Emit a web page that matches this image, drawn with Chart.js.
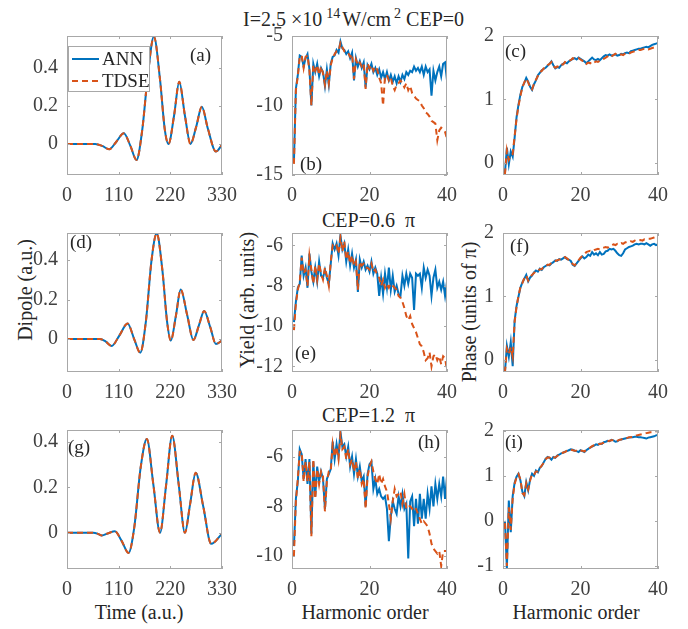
<!DOCTYPE html>
<html>
<head>
<meta charset="utf-8">
<script src="https://cdn.jsdelivr.net/npm/chart.js@4.4.0/dist/chart.umd.min.js"></script>
<style>
  body { margin: 0; background: #fff; width: 688px; height: 629px; position: relative; overflow: hidden;
         font-family: "Liberation Serif", "Times New Roman", serif; }
  canvas { position: absolute; }
  .txt { position: absolute; white-space: nowrap; color: #262626; font-size: 20px; line-height: 20px; }
  .txt sup { font-size: 14px; vertical-align: 8px; line-height: 0; }
  .ctr { transform: translate(-50%, -50%); }
  .rot { transform: translate(-50%, -50%) rotate(-90deg); }
</style>
</head>
<body>
<div class="txt" style="left:243px; top:9px">I=2.5 &times;10<sup style="margin-left:4px">14</sup><span style="margin-left:2px">W/cm</span><sup style="margin-left:3px">2</sup> CEP=0</div>
<div class="txt" style="left:322px; top:210px">CEP=0.6 &nbsp;&pi;</div>
<div class="txt" style="left:322px; top:405px">CEP=1.2 &nbsp;&pi;</div>
<div class="txt rot" style="left:25px; top:290px">Dipole (a.u.)</div>
<div class="txt rot" style="left:247px; top:300px">Yield (arb. units)</div>
<div class="txt rot" style="left:469px; top:312px">Phase (units of &pi;)</div>
<div class="txt ctr" style="left:139px; top:612px">Time (a.u.)</div>
<div class="txt ctr" style="left:365px; top:612px">Harmonic order</div>
<div class="txt ctr" style="left:576px; top:612px">Harmonic order</div>
<script>
// ---- dipole vs time, panels (a) (d) (g)
const timeA = [0, 60, 75, 90, 105, 121, 135, 148, 160, 172, 185, 198, 208, 216, 228, 239, 251, 263, 275, 287, 300, 317, 330];
const dipoleAnnA = [0, 0, -0.01, -0.028, 0.012, 0.056, -0.01, -0.084, 0.07, 0.36, 0.565, 0.34, 0.08, 0.0, 0.15, 0.328, 0.15, 0.0, 0.09, 0.196, 0.08, -0.04, -0.005];
const dipoleTdseA = [0, 0, -0.01, -0.028, 0.012, 0.056, -0.01, -0.084, 0.07, 0.36, 0.565, 0.34, 0.08, 0.0, 0.15, 0.328, 0.15, 0.0, 0.09, 0.196, 0.08, -0.04, -0.005];

const timeD = [0, 70, 82, 95, 112, 129, 143, 156, 168, 180, 191, 203, 213, 221, 232, 242, 256, 269, 281, 292, 305, 317, 330];
const dipoleAnnD = [0, 0, -0.012, -0.035, 0.02, 0.079, 0.0, -0.069, 0.09, 0.4, 0.535, 0.35, 0.09, -0.008, 0.12, 0.251, 0.12, -0.005, 0.07, 0.142, 0.06, -0.025, -0.008];
const dipoleTdseD = [0, 0, -0.012, -0.035, 0.02, 0.079, 0.0, -0.069, 0.09, 0.4, 0.535, 0.35, 0.09, -0.008, 0.12, 0.251, 0.12, -0.005, 0.07, 0.142, 0.06, -0.025, -0.008];

const timeG = [0, 56, 66, 74, 88, 102, 116, 131, 143, 157, 170, 184, 198, 211, 224, 238, 251, 262, 274, 290, 307, 330];
const dipoleAnnG = [0, 0, -0.005, -0.012, -0.002, 0.006, -0.035, -0.089, 0.02, 0.29, 0.413, 0.21, 0.0, 0.21, 0.428, 0.21, 0.0, 0.125, 0.265, 0.117, -0.049, -0.004];
const dipoleTdseG = [0, 0, -0.005, -0.012, -0.002, 0.006, -0.035, -0.089, 0.02, 0.29, 0.413, 0.21, 0.0, 0.21, 0.428, 0.21, 0.0, 0.125, 0.265, 0.117, -0.049, -0.004];

// ---- harmonic spectra, orders 0.5 ... 40
const harmonics = [];
for (let i = 1; i <= 80; i++) harmonics.push(i / 2);

const yieldAnnB = [
  -14.0, -8.8, -7.8, -6.4, -6.5, -7.2, -6.6, -6.3, -7.4, -10.0,
  -7.0, -7.6, -7.0, -7.9, -7.3, -7.6, -8.6, -7.4, -8.5, -7.0,
  -6.5, -6.4, -6.0, -6.2, -5.4, -5.9, -6.0, -6.3, -6.1, -6.6,
  -6.2, -8.2, -6.6, -7.2, -6.8, -7.3, -6.9, -8.7, -7.1, -7.4,
  -7.0, -7.6, -7.3, -7.8, -7.4, -8.0, -7.6, -8.1, -7.6, -8.2,
  -7.8, -8.3, -7.9, -8.4, -7.9, -8.3, -7.8, -8.1, -7.6, -7.8,
  -7.5, -7.6, -7.2, -7.5, -7.3, -7.6, -7.2, -7.8, -7.2, -7.6,
  -7.4, -9.3, -7.5, -8.2, -7.6, -7.2, -7.9, -7.0, -6.9, -8.2];
const yieldTdseB = [
  -14.2, -8.9, -7.9, -6.5, -6.4, -7.3, -6.5, -6.4, -7.5, -10.0,
  -7.1, -7.5, -7.1, -7.8, -7.2, -7.7, -8.5, -7.5, -8.4, -7.1,
  -6.6, -6.3, -6.1, -6.1, -5.5, -5.8, -6.1, -6.2, -6.2, -6.5,
  -6.3, -8.1, -6.7, -7.1, -6.9, -7.2, -7.0, -8.8, -7.0, -7.3,
  -7.1, -7.5, -7.2, -7.4, -8.0, -8.4, -10.0, -7.9, -7.8, -8.2,
  -8.0, -8.6, -8.9, -8.5, -8.4, -8.2, -8.4, -8.7, -8.4, -8.9,
  -8.6, -9.1, -9.3, -9.5, -9.6, -9.7, -10.0, -10.2, -10.5, -10.6,
  -10.8, -11.1, -11.2, -11.3, -12.5, -11.8, -11.6, -11.7, -11.9, -12.4];

const phaseAnnC = [
  -0.16, 0.24, -0.02, 0.18, 0.1, 0.4, 0.72, 0.92, 1.08, 1.2,
  1.26, 1.34, 1.28, 1.2, 1.15, 1.24, 1.3, 1.38, 1.42, 1.46,
  1.48, 1.5, 1.53, 1.56, 1.6, 1.54, 1.49, 1.51, 1.5, 1.54,
  1.56, 1.58, 1.57, 1.6, 1.62, 1.64, 1.65, 1.63, 1.66, 1.64,
  1.62, 1.6, 1.57, 1.6, 1.63, 1.66, 1.63, 1.62, 1.64, 1.62,
  1.65, 1.68, 1.7, 1.69, 1.71, 1.69, 1.7, 1.71, 1.69, 1.7,
  1.72, 1.71, 1.73, 1.74, 1.73, 1.76, 1.77, 1.78, 1.79, 1.8,
  1.8, 1.81, 1.82, 1.83, 1.82, 1.84, 1.86, 1.87, 1.88, 1.89];
const phaseTdseC = [
  -0.18, 0.2, 0.05, 0.12, 0.14, 0.42, 0.7, 0.9, 1.06, 1.19,
  1.27, 1.33, 1.27, 1.19, 1.16, 1.25, 1.31, 1.37, 1.43, 1.45,
  1.49, 1.5, 1.54, 1.56, 1.59, 1.53, 1.5, 1.52, 1.51, 1.55,
  1.55, 1.59, 1.58, 1.61, 1.62, 1.65, 1.64, 1.64, 1.65, 1.63,
  1.61, 1.6, 1.56, 1.58, 1.57, 1.6, 1.58, 1.6, 1.59, 1.61,
  1.63, 1.64, 1.66, 1.68, 1.7, 1.68, 1.7, 1.72, 1.7, 1.69,
  1.71, 1.7, 1.72, 1.73, 1.72, 1.74, 1.75, 1.76, 1.77, 1.78,
  1.78, 1.79, 1.8, 1.8, 1.79, 1.8, 1.81, 1.82, 1.82, 1.82];

const yieldAnnE = [
  -9.8, -8.8, -8.1, -7.9, -6.5, -7.5, -7.1, -8.1, -6.4, -7.3,
  -7.8, -7.1, -7.8, -6.8, -7.5, -7.6, -7.2, -7.6, -7.9, -6.9,
  -5.9, -6.2, -5.9, -6.5, -5.5, -6.2, -5.9, -6.8, -6.2, -7.0,
  -6.4, -7.1, -6.7, -8.3, -6.7, -7.1, -6.8, -7.2, -7.0, -7.3,
  -6.8, -7.4, -7.1, -7.4, -8.5, -7.6, -8.4, -7.4, -8.1, -7.1,
  -8.2, -7.5, -8.3, -8.0, -8.4, -8.5, -7.5, -8.0, -7.4, -7.9,
  -7.4, -7.6, -9.2, -7.4, -7.5, -7.4, -8.1, -7.1, -7.6, -7.2,
  -7.5, -8.5, -7.6, -7.2, -8.1, -7.8, -8.2, -7.8, -8.5, -7.8];
const yieldTdseE = [
  -10.2, -8.9, -8.2, -7.8, -6.6, -7.4, -7.2, -8.0, -6.5, -7.2,
  -7.9, -7.0, -7.7, -6.9, -7.4, -7.7, -7.1, -7.5, -8.0, -6.8,
  -6.0, -6.1, -6.0, -6.4, -5.6, -6.3, -5.8, -6.7, -6.3, -6.9,
  -6.5, -7.0, -6.8, -8.2, -6.8, -7.0, -6.9, -7.1, -7.1, -7.2,
  -6.9, -7.3, -7.2, -7.5, -7.6, -8.0, -7.7, -8.1, -7.9, -8.1,
  -7.9, -8.0, -8.1, -8.2, -8.5, -8.6, -8.8, -9.1, -9.5, -9.7,
  -9.5, -9.9, -10.1, -10.3, -10.6, -10.9, -11.0, -11.3, -11.7, -11.6,
  -11.3, -12.0, -11.5, -11.4, -11.7, -11.5, -11.9, -11.5, -11.6, -12.2];

const phaseAnnF = [
  -0.19, 0.22, 0.05, 0.28, -0.1, 0.62, 0.85, 1.0, 1.14, 1.22,
  1.28, 1.34, 1.24, 1.3, 1.33, 1.38, 1.41, 1.39, 1.44, 1.42,
  1.46, 1.48, 1.5, 1.49, 1.52, 1.54, 1.57, 1.56, 1.59, 1.58,
  1.6, 1.62, 1.59, 1.58, 1.56, 1.5, 1.48, 1.52, 1.56, 1.6,
  1.63, 1.6, 1.62, 1.66, 1.64, 1.7, 1.66, 1.68, 1.65, 1.7,
  1.66, 1.67, 1.71, 1.72, 1.75, 1.74, 1.75, 1.72, 1.68, 1.65,
  1.64, 1.68, 1.74, 1.76, 1.78, 1.79, 1.8, 1.82, 1.83, 1.82,
  1.83, 1.83, 1.82, 1.84, 1.82, 1.8, 1.82, 1.83, 1.81, 1.82];
const phaseTdseF = [
  -0.2, 0.18, 0.1, 0.2, 0.05, 0.6, 0.84, 1.01, 1.15, 1.21,
  1.29, 1.33, 1.25, 1.31, 1.34, 1.37, 1.4, 1.4, 1.43, 1.43,
  1.47, 1.47, 1.5, 1.5, 1.53, 1.55, 1.56, 1.57, 1.58, 1.59,
  1.61, 1.62, 1.6, 1.57, 1.55, 1.51, 1.49, 1.53, 1.57, 1.61,
  1.64, 1.66, 1.7, 1.71, 1.72, 1.71, 1.73, 1.74, 1.75, 1.74,
  1.76, 1.77, 1.78, 1.77, 1.79, 1.8, 1.82, 1.81, 1.83, 1.82,
  1.84, 1.83, 1.85, 1.86, 1.85, 1.87, 1.86, 1.88, 1.87, 1.88,
  1.89, 1.88, 1.9, 1.9, 1.91, 1.91, 1.92, 1.93, 1.94, 1.96];

const yieldAnnH = [
  -9.6, -7.7, -7.0, -5.7, -5.9, -6.9, -6.1, -7.1, -6.1, -9.1,
  -6.2, -7.6, -6.4, -7.0, -6.6, -6.9, -8.1, -6.9, -6.7, -6.5,
  -5.4, -6.1, -5.5, -6.0, -5.0, -5.6, -5.5, -6.0, -5.6, -6.4,
  -6.0, -6.7, -6.1, -6.8, -6.4, -7.0, -6.8, -8.0, -6.7, -6.3,
  -6.2, -7.3, -6.9, -7.5, -7.3, -7.6, -7.7, -7.6, -8.1, -9.4,
  -8.4, -7.8, -8.1, -8.3, -7.6, -8.0, -7.5, -8.1, -7.9, -10.1,
  -7.8, -7.6, -8.8, -7.7, -8.7, -7.5, -8.5, -7.7, -8.5, -7.5,
  -8.1, -7.2, -8.0, -7.1, -7.7, -7.1, -7.6, -6.8, -7.7, -6.8];
const yieldTdseH = [
  -10.0, -7.8, -6.9, -5.8, -5.8, -7.0, -6.2, -7.0, -6.2, -9.2,
  -6.1, -7.7, -6.5, -7.1, -6.6, -6.8, -8.2, -7.0, -6.6, -6.6,
  -5.5, -6.0, -5.6, -6.1, -5.1, -5.7, -5.6, -6.1, -5.7, -6.3,
  -6.1, -6.6, -6.2, -6.9, -6.5, -7.1, -6.9, -8.1, -6.8, -6.4,
  -6.2, -6.6, -6.9, -7.1, -6.7, -7.1, -6.9, -7.2, -7.4, -7.9,
  -8.5, -7.8, -7.3, -7.6, -7.5, -7.4, -7.9, -7.5, -8.1, -8.0,
  -8.0, -8.1, -8.0, -8.1, -8.3, -8.5, -8.7, -8.6, -8.7, -8.8,
  -9.1, -9.5, -9.7, -9.8, -9.9, -9.8, -10.4, -9.8, -9.8, -9.8];

const phaseAnnI = [
  0.0, -1.05, 0.45, -0.25, 0.55, 0.85, 0.98, 1.05, 0.9, 0.65,
  0.55, 0.86, 0.68, 0.92, 1.05, 1.0, 1.12, 1.08, 1.18, 1.22,
  1.3, 1.38, 1.42, 1.4, 1.36, 1.42, 1.4, 1.45, 1.47, 1.5,
  1.51, 1.54, 1.55, 1.57, 1.59, 1.58, 1.56, 1.55, 1.53, 1.57,
  1.55, 1.53, 1.57, 1.6, 1.63, 1.65, 1.67, 1.7, 1.69, 1.72,
  1.71, 1.75, 1.76, 1.78, 1.77, 1.8, 1.79, 1.76, 1.77, 1.8,
  1.81, 1.82, 1.83, 1.84, 1.85, 1.86, 1.86, 1.87, 1.87, 1.86,
  1.86, 1.85, 1.84, 1.83, 1.85, 1.86, 1.87, 1.88, 1.9, 1.91];
const phaseTdseI = [
  -0.05, -1.0, 0.3, -0.2, 0.5, 0.82, 0.97, 1.04, 0.92, 0.62,
  0.57, 0.84, 0.7, 0.9, 1.04, 1.02, 1.1, 1.1, 1.17, 1.23,
  1.29, 1.37, 1.41, 1.41, 1.37, 1.41, 1.41, 1.44, 1.48, 1.49,
  1.52, 1.53, 1.56, 1.58, 1.58, 1.57, 1.56, 1.56, 1.54, 1.56,
  1.56, 1.54, 1.58, 1.61, 1.63, 1.66, 1.68, 1.69, 1.7, 1.71,
  1.72, 1.74, 1.77, 1.77, 1.78, 1.79, 1.8, 1.77, 1.78, 1.8,
  1.81, 1.83, 1.84, 1.84, 1.86, 1.86, 1.87, 1.89, 1.9, 1.91,
  1.92, 1.93, 1.94, 1.95, 1.96, 1.97, 1.97, 1.98, 1.99, 2.0];

// ---- tick labels
const timeTicks = [0, 110, 220, 330];
const orderTicks = [0, 20, 40];
const dipoleTicks = [0, 0.2, 0.4];
const phaseTicks = [0, 1, 2];

const BLUE = "#0072BD";
const ORANGE = "#D95319";
const FONT = '"Liberation Serif", "Times New Roman", serif';
const BOX = "#a8a8a8";
const TEXT = "#262626";

// plot boxes in page pixels
const COLS = [[67, 222], [292, 447], [503, 658]];
const ROWS = [[36, 175], [233, 372], [430, 569]];
const PADL = 50, PADT = 14, PADR = 22, PADB = 34;

const panels = [
  { tag: "(a)", col: 0, row: 0, xs: timeA, ann: dipoleAnnA, tdse: dipoleTdseA, xMax: 330, xTicks: timeTicks,
    yMin: -0.163, yMax: 0.568, yTicks: dipoleTicks, smooth: true, tagAt: [190, 56], legend: true },
  { tag: "(b)", col: 1, row: 0, xs: harmonics, ann: yieldAnnB, tdse: yieldTdseB, xMax: 40, xTicks: orderTicks,
    yMin: -15, yMax: -5, yTicks: [-15, -10, -5], tagAt: [300, 165] },
  { tag: "(c)", col: 2, row: 0, xs: harmonics, ann: phaseAnnC, tdse: phaseTdseC, xMax: 40, xTicks: orderTicks,
    yMin: -0.19, yMax: 2, yTicks: phaseTicks, tagAt: [505, 52] },
  { tag: "(d)", col: 0, row: 1, xs: timeD, ann: dipoleAnnD, tdse: dipoleTdseD, xMax: 330, xTicks: timeTicks,
    yMin: -0.167, yMax: 0.537, yTicks: dipoleTicks, smooth: true, tagAt: [70, 243] },
  { tag: "(e)", col: 1, row: 1, xs: harmonics, ann: yieldAnnE, tdse: yieldTdseE, xMax: 40, xTicks: orderTicks,
    yMin: -12.28, yMax: -5.38, yTicks: [-12, -10, -8, -6], tagAt: [295, 354] },
  { tag: "(f)", col: 2, row: 1, xs: harmonics, ann: phaseAnnF, tdse: phaseTdseF, xMax: 40, xTicks: orderTicks,
    yMin: -0.19, yMax: 2.0, yTicks: phaseTicks, tagAt: [510, 247] },
  { tag: "(g)", col: 0, row: 2, xs: timeG, ann: dipoleAnnG, tdse: dipoleTdseG, xMax: 330, xTicks: timeTicks,
    yMin: -0.16, yMax: 0.453, yTicks: dipoleTicks, smooth: true, tagAt: [68, 448] },
  { tag: "(h)", col: 1, row: 2, xs: harmonics, ann: yieldAnnH, tdse: yieldTdseH, xMax: 40, xTicks: orderTicks,
    yMin: -10.52, yMax: -4.93, yTicks: [-10, -8, -6], tagAt: [418, 443] },
  { tag: "(i)", col: 2, row: 2, xs: harmonics, ann: phaseAnnI, tdse: phaseTdseI, xMax: 40, xTicks: orderTicks,
    yMin: -1.07, yMax: 2.02, yTicks: [-1, 0, 1, 2], tagAt: [505, 443] },
];

// box, inward ticks, panel tag and the legend of (a)
const framePlugin = {
  id: "frame",
  afterDatasetsDraw(chart, args, opts) {
    const { ctx, chartArea: a, scales } = chart;
    ctx.save();
    ctx.strokeStyle = BOX;
    ctx.lineWidth = 1;
    ctx.strokeRect(a.left + 0.5, a.top + 0.5, a.width - 1, a.height - 1);
    ctx.beginPath();
    scales.y.ticks.forEach(t => {
      const y = Math.round(scales.y.getPixelForValue(t.value)) + 0.5;
      ctx.moveTo(a.left, y); ctx.lineTo(a.left + 3, y);
      ctx.moveTo(a.right, y); ctx.lineTo(a.right - 3, y);
    });
    scales.x.ticks.forEach(t => {
      const x = Math.round(scales.x.getPixelForValue(t.value)) + 0.5;
      ctx.moveTo(x, a.bottom); ctx.lineTo(x, a.bottom - 3);
      ctx.moveTo(x, a.top); ctx.lineTo(x, a.top + 3);
    });
    ctx.stroke();

    ctx.fillStyle = TEXT;
    ctx.font = "19px " + FONT;
    ctx.textBaseline = "middle";
    ctx.textAlign = "left";
    ctx.fillText(opts.tag, opts.tagAt[0] - opts.ox, opts.tagAt[1] - opts.oy);

    if (opts.legend) {
      const lx = a.left + 1, ly = a.top + 10, lw = 82, lh = 46;
      ctx.fillStyle = "#fff";
      ctx.fillRect(lx, ly, lw, lh);
      ctx.strokeStyle = BOX;
      ctx.strokeRect(lx + 0.5, ly + 0.5, lw - 1, lh - 1);
      const ds = chart.data.datasets;
      [13, 35].forEach((dy, i) => {
        ctx.beginPath();
        ctx.strokeStyle = ds[i].borderColor;
        ctx.lineWidth = 2;
        ctx.setLineDash(ds[i].borderDash || []);
        ctx.moveTo(lx + 4, ly + dy); ctx.lineTo(lx + 31, ly + dy);
        ctx.stroke();
        ctx.setLineDash([]);
        ctx.fillStyle = TEXT;
        ctx.fillText(ds[i].label, lx + 34, ly + dy + 1);
      });
    }
    ctx.restore();
  }
};

function makePanel(p) {
  const [L, R] = COLS[p.col];
  const [T, B] = ROWS[p.row];
  const canvas = document.createElement("canvas");
  canvas.width = R - L + PADL + PADR;
  canvas.height = B - T + PADT + PADB;
  canvas.style.left = (L - PADL) + "px";
  canvas.style.top = (T - PADT) + "px";
  document.body.appendChild(canvas);

  // order: TDSE (lower order) is drawn on top of ANN
  const line = (label, ys, color, dash, order) => ({
    label,
    order,
    data: p.xs.map((x, i) => ({ x, y: ys[i] })),
    borderColor: color,
    backgroundColor: color,
    borderWidth: 2,
    borderDash: dash,
    pointRadius: 0,
    fill: false,
    tension: 0,
    cubicInterpolationMode: p.smooth ? "monotone" : "default",
  });

  const tickFont = { family: FONT, size: 20 };

  new Chart(canvas, {
    type: "line",
    data: {
      datasets: [
        line("ANN", p.ann, BLUE, [], 2),
        line("TDSE", p.tdse, ORANGE, [6, 4], 1),
      ],
    },
    options: {
      responsive: false,
      animation: false,
      devicePixelRatio: 1,
      layout: { padding: { left: 0, top: PADT, right: PADR, bottom: 0 } },
      plugins: {
        legend: { display: false },
        tooltip: { enabled: false },
        frame: { tag: p.tag, tagAt: p.tagAt, ox: L - PADL, oy: T - PADT, legend: !!p.legend },
      },
      scales: {
        x: {
          type: "linear",
          min: 0,
          max: p.xMax,
          grid: { display: false, drawTicks: false },
          border: { display: false },
          ticks: { font: tickFont, color: "#404040", padding: 9, maxRotation: 0, autoSkip: false,
                   callback: v => String(v) },
          afterBuildTicks: ax => { ax.ticks = p.xTicks.map(v => ({ value: v })); },
          afterFit: ax => { ax.height = PADB; ax.paddingLeft = 0; ax.paddingRight = 0; },
        },
        y: {
          type: "linear",
          min: p.yMin,
          max: p.yMax,
          grid: { display: false, drawTicks: false },
          border: { display: false },
          ticks: { font: tickFont, color: "#404040", padding: 9, autoSkip: false,
                   callback: v => String(v) },
          afterBuildTicks: ax => { ax.ticks = p.yTicks.map(v => ({ value: v })); },
          afterFit: ax => { ax.width = PADL; ax.paddingTop = 0; ax.paddingBottom = 0; },
        },
      },
    },
    plugins: [framePlugin],
  });
}

panels.forEach(makePanel);
</script>
</body>
</html>
